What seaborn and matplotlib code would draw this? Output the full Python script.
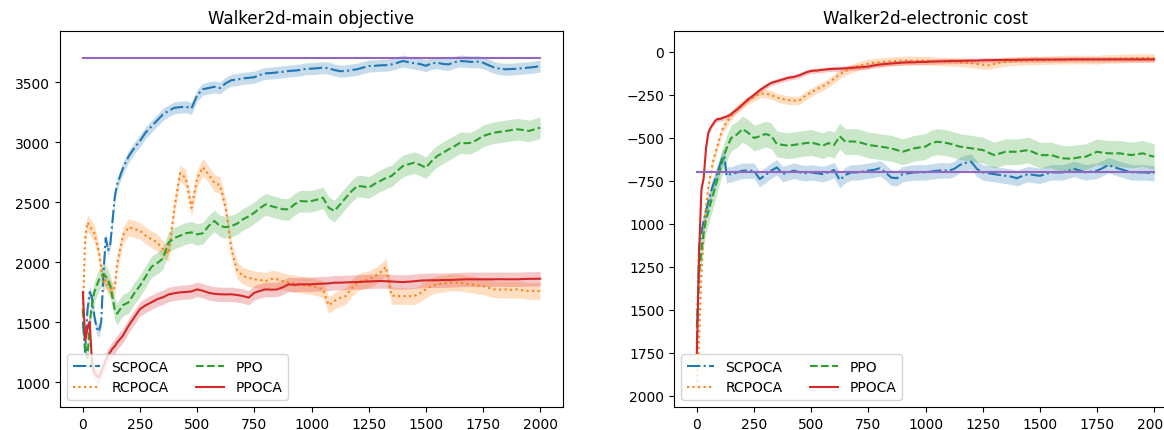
import numpy as np
import pandas as pd
import matplotlib
matplotlib.use("Agg")
import matplotlib.pyplot as plt
import seaborn as sns
from matplotlib.ticker import FixedLocator, FixedFormatter

# ---------------- data ----------------
steps = [0, 10, 20, 30, 40, 50, 60, 70, 80, 90, 100, 110, 120, 130, 140, 150,
         175, 200, 225, 250, 275, 300, 325, 350,
         375, 400, 425, 450, 475, 500, 525, 550,
         575, 600, 625, 650, 675, 700, 725, 750,
         775, 800, 825, 850, 875, 900, 925, 950,
         975, 1000, 1025, 1050, 1075, 1100, 1125, 1150,
         1175, 1200, 1225, 1250, 1275, 1300, 1325, 1350,
         1375, 1400, 1425, 1450, 1475, 1500, 1525, 1550,
         1575, 1600, 1625, 1650, 1675, 1700, 1725, 1750,
         1775, 1800, 1825, 1850, 1875, 1900, 1925, 1950,
         1975, 2000]

methods = ["SCPOCA", "RCPOCA", "PPO", "PPOCA"]

# Walker2d - main objective
main_scpoca = [1500, 1250, 1600, 1750, 1700, 1550, 1450, 1420, 1500, 1900, 2200, 2100, 2150, 2350, 2550, 2650,
               2780, 2880, 2950, 3010, 3080, 3130, 3180, 3230,
               3260, 3285, 3290, 3295, 3280, 3390, 3440, 3450,
               3460, 3450, 3490, 3515, 3520, 3530, 3535, 3540,
               3560, 3572, 3575, 3580, 3585, 3592, 3595, 3600,
               3610, 3611, 3615, 3620, 3615, 3600, 3590, 3592,
               3600, 3606, 3620, 3633, 3635, 3639, 3640, 3647,
               3660, 3675, 3665, 3656, 3650, 3635, 3655, 3661,
               3650, 3647, 3665, 3675, 3672, 3667, 3670, 3661,
               3640, 3620, 3610, 3606, 3608, 3611, 3615, 3620,
               3625, 3633]
main_rcpoca = [1600, 2200, 2330, 2300, 2270, 2240, 2160, 2080, 1950, 1820, 1850, 1800, 1780, 1760, 1800, 1990,
               2220, 2290, 2275, 2261, 2219, 2190, 2164, 2108,
               2070, 2450, 2740, 2700, 2450, 2700, 2790, 2730,
               2660, 2640, 2450, 2100, 1930, 1883, 1870, 1856,
               1850, 1842, 1860, 1856, 1840, 1828, 1820, 1814,
               1805, 1800, 1790, 1772, 1640, 1675, 1700, 1717,
               1780, 1828, 1845, 1856, 1880, 1911, 1960, 1720,
               1717, 1717, 1715, 1717, 1740, 1772, 1800, 1814,
               1820, 1828, 1830, 1828, 1820, 1814, 1805, 1800,
               1785, 1772, 1770, 1772, 1768, 1772, 1765, 1758,
               1760, 1758]
main_ppo = [1600, 1300, 1200, 1500, 1650, 1750, 1800, 1850, 1880, 1900, 1880, 1850, 1800, 1700, 1600, 1570,
            1640, 1664, 1740, 1803, 1880, 1960, 1990, 2030,
            2164, 2200, 2219, 2240, 2247, 2231, 2240, 2300,
            2342, 2300, 2290, 2300, 2320, 2356, 2380, 2411,
            2450, 2481, 2465, 2453, 2440, 2439, 2480, 2508,
            2505, 2508, 2520, 2536, 2453, 2425, 2480, 2536,
            2590, 2633, 2630, 2620, 2650, 2675, 2700, 2717,
            2760, 2800, 2815, 2828, 2810, 2786, 2840, 2883,
            2910, 2939, 2965, 2994, 2990, 2994, 3020, 3050,
            3065, 3078, 3085, 3092, 3100, 3106, 3100, 3092,
            3105, 3120]
main_ppoca = [1750, 1350, 1450, 1500, 1150, 1080, 1050, 1040, 1080, 1130, 1180, 1220, 1250, 1280, 1300, 1330,
              1386, 1469, 1540, 1608, 1640, 1664, 1690, 1706,
              1730, 1740, 1747, 1750, 1755, 1772, 1760, 1744,
              1735, 1731, 1730, 1731, 1725, 1717, 1703, 1744,
              1760, 1772, 1770, 1772, 1790, 1814, 1810, 1814,
              1814, 1814, 1818, 1820, 1822, 1828, 1828, 1830,
              1832, 1833, 1836, 1838, 1840, 1842, 1840, 1838,
              1835, 1833, 1836, 1840, 1845, 1847, 1848, 1848,
              1850, 1850, 1852, 1854, 1856, 1856, 1856, 1856,
              1856, 1856, 1857, 1856, 1856, 1856, 1858, 1860,
              1860, 1861]
main_band = [50, 70, 90, 60]          # half-width of shaded band per method
main_threshold = 3700

# Walker2d - electronic cost
cost_scpoca = [-1700, -1126, -1050, -980, -920, -874, -820, -777, -740, -700, -660, -622, -603, -719, -710, -712,
               -700, -690, -690, -690, -739, -715, -690, -671,
               -710, -700, -690, -700, -705, -700, -705, -710,
               -700, -686, -744, -715, -700, -700, -695, -690,
               -685, -676, -700, -730, -734, -710, -705, -700,
               -700, -700, -695, -690, -688, -690, -680, -657,
               -645, -638, -680, -700, -705, -710, -715, -720,
               -725, -734, -720, -710, -715, -720, -710, -700,
               -700, -700, -690, -680, -690, -700, -695, -690,
               -675, -657, -670, -680, -690, -700, -700, -700,
               -702, -705]
cost_rcpoca = [-1950, -1650, -1280, -1050, -900, -790, -710, -642, -590, -545, -500, -455, -430, -410, -390, -370,
               -331, -305, -280, -260, -244, -240, -250, -265,
               -273, -280, -283, -280, -254, -235, -215, -200,
               -180, -155, -130, -110, -97, -85, -75, -68,
               -62, -60, -56, -54, -52, -50, -50, -50,
               -50, -50, -52, -55, -55, -57, -58, -60,
               -62, -65, -70, -74, -77, -70, -62, -58,
               -55, -52, -50, -50, -48, -50, -48, -46,
               -45, -45, -44, -44, -45, -44, -44, -45,
               -42, -40, -40, -38, -38, -36, -36, -35,
               -35, -35]
cost_ppo = [-1600, -1281, -1150, -1050, -975, -932, -880, -835, -790, -739, -690, -642, -600, -560, -530, -500,
            -480, -448, -470, -500, -490, -477, -487, -535,
            -540, -545, -540, -535, -530, -526, -535, -545,
            -530, -541, -490, -522, -520, -522, -530, -541,
            -545, -550, -555, -560, -570, -580, -570, -560,
            -555, -550, -530, -522, -525, -531, -540, -550,
            -555, -560, -565, -570, -585, -599, -590, -580,
            -580, -580, -575, -570, -585, -599, -600, -599,
            -610, -618, -620, -618, -612, -609, -595, -580,
            -585, -589, -590, -589, -595, -599, -595, -589,
            -600, -609]
cost_ppoca = [-1750, -1150, -800, -730, -560, -470, -440, -420, -400, -390, -390, -385, -380, -375, -370, -360,
              -335, -305, -275, -250, -222, -200, -180, -170,
              -160, -150, -145, -135, -120, -110, -108, -104,
              -100, -98, -97, -95, -92, -90, -88, -85,
              -78, -73, -70, -67, -64, -62, -60, -60,
              -58, -58, -56, -55, -54, -53, -52, -52,
              -51, -50, -50, -48, -48, -47, -47, -46,
              -46, -46, -45, -45, -44, -44, -44, -44,
              -44, -44, -43, -43, -43, -43, -43, -43,
              -43, -43, -43, -43, -43, -43, -43, -43,
              -43, -43]
cost_band = [45, 25, 75, 15]
cost_threshold = -700

cost_ticks = [0, -250, -500, -750, -1000, -1250, -1500, -1750, -2000]
cost_tick_labels = ["0", "\u2212250", "\u2212500", "\u2212750", "1000", "1250", "1500", "1750", "2000"]

# ---------------- styling ----------------
colors = ["#1f77b4", "#ff7f0e", "#2ca02c", "#d62728"]
linestyles = ["-.", ":", "--", "-"]
threshold_color = "#9467bd"

fig = plt.figure(figsize=(11.64, 4.31), dpi=100)
ax1 = fig.add_axes([60 / 1164, 23 / 431, 503 / 1164, 376 / 431])
ax2 = fig.add_axes([674 / 1164, 23 / 431, 503 / 1164, 376 / 431])


def draw(ax, series, bands, threshold, title):
    for name, vals, hw, c, ls in zip(methods, series, bands, colors, linestyles):
        df = pd.DataFrame({"step": steps, "value": vals})
        v = np.asarray(vals, dtype=float)
        ax.fill_between(steps, v - hw, v + hw, color=c, alpha=0.25, linewidth=0)
        sns.lineplot(data=df, x="step", y="value", ax=ax, color=c, linestyle=ls,
                     linewidth=1.5, label=name)
    thr = pd.DataFrame({"step": [steps[0], steps[-1]], "value": [threshold, threshold]})
    sns.lineplot(data=thr, x="step", y="value", ax=ax, color=threshold_color,
                 linewidth=1.5, legend=False)
    ax.set_title(title, fontsize=12)
    ax.set_xlabel("")
    ax.set_ylabel("")
    ax.set_xticks([0, 250, 500, 750, 1000, 1250, 1500, 1750, 2000])
    ax.set_xlim(-100, 2100)
    handles, labels = ax.get_legend_handles_labels()
    ax.legend(handles[:4], labels[:4], loc="lower left", ncol=2, fontsize=10)


draw(ax1, [main_scpoca, main_rcpoca, main_ppo, main_ppoca], main_band, main_threshold,
     "Walker2d-main objective")
ax1.set_ylim(792, 3925)
ax1.set_yticks([1000, 1500, 2000, 2500, 3000, 3500])

draw(ax2, [cost_scpoca, cost_rcpoca, cost_ppo, cost_ppoca], cost_band, cost_threshold,
     "Walker2d-electronic cost")
ax2.set_ylim(-2064, 122)
ax2.yaxis.set_major_locator(FixedLocator(cost_ticks))
ax2.yaxis.set_major_formatter(FixedFormatter(cost_tick_labels))

fig.savefig("out.png", dpi=100)
